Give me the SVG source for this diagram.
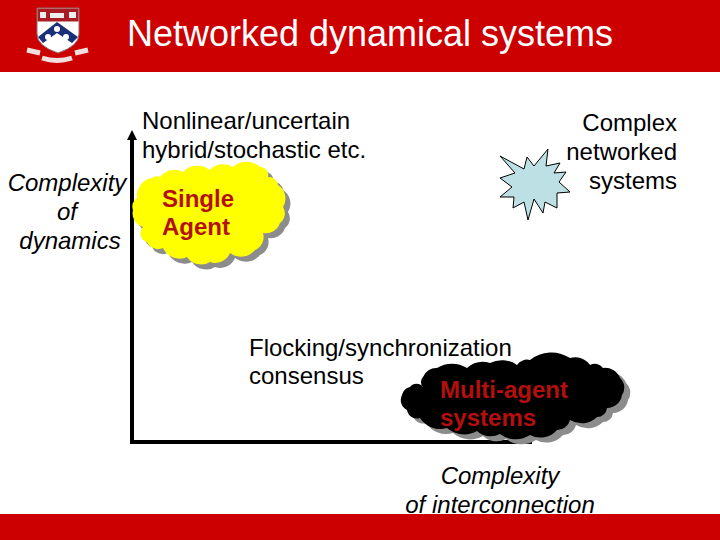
<svg xmlns="http://www.w3.org/2000/svg" width="720" height="540" viewBox="0 0 720 540">
<style>
text{font-family:"Liberation Sans",Arial,sans-serif;fill:#000}
.t{font-size:24px}
.i{font-size:24px;font-style:italic}
.m{text-anchor:middle}
.e{text-anchor:end}
.b{font-size:24px;font-weight:bold;fill:#b40f0f}
.title{font-size:36px;fill:#fff}
.ax{stroke:#000;stroke-width:4;fill:none}
</style>
<defs>
<path id="y" d="M133 210A10 10 0 0 1 137 198A18 18 0 0 1 152 178A8 8 0 0 1 160 177A18 18 0 0 1 183 172A20 20 0 0 1 210 170A18 18 0 0 1 233 167A20 20 0 0 1 260 167A8 8 0 0 1 268 177A9 9 0 0 1 278 185A16 16 0 0 1 283 207A12 12 0 0 1 280 223A15 15 0 0 1 263 233A14 14 0 0 1 255 250A18 18 0 0 1 230 253A16 16 0 0 1 210 262A17 17 0 0 1 187 257A18 18 0 0 1 163 248A12 12 0 0 1 147 242A9 9 0 0 1 143 227A14 14 0 0 1 133 210Z"/>
<path id="k" d="M402 395A11 11 0 0 1 410 387A8 8 0 0 1 423 387A7 7 0 0 1 423 377A14 14 0 0 1 437 368A28 28 0 0 1 467 368A24 24 0 0 1 490 363A26 26 0 0 1 517 365A12 12 0 0 1 530 360A34 34 0 0 1 570 358A18 18 0 0 1 590 365A10 10 0 0 1 603 368A16 16 0 0 1 620 378A13 13 0 0 1 622 395A15 15 0 0 1 607 408A10 10 0 0 1 597 417A22 22 0 0 1 570 420A13 13 0 0 1 557 430A22 22 0 0 1 530 435A26 26 0 0 1 500 434A20 20 0 0 1 477 431A26 26 0 0 1 447 428A24 24 0 0 1 420 418A10 10 0 0 1 407 410A11 11 0 0 1 402 395Z"/>
</defs>
<rect width="720" height="540" fill="#fff"/>
<rect id="header" width="720" height="72" fill="#cc0000"/>
<rect id="footer" y="514" width="720" height="26" fill="#cc0000"/>
<g id="crest">
<path d="M37 8H79V34Q79 46 58 53Q37 46 37 34Z" fill="#fff" stroke="#8a6a70" stroke-width="1"/>
<rect x="37.500" y="8.500" width="41" height="13" fill="#a81c24"/>
<rect x="40" y="12" width="6" height="6" fill="#eee"/>
<rect x="50" y="13" width="14" height="5" fill="#eee"/>
<rect x="69" y="12" width="7" height="6" fill="#eee"/>
<path d="M57 22L78 37L72 43L57 33L43 43L38 37Z" fill="#1a2f7a"/>
<circle cx="57" cy="29" r="3" fill="#fff"/>
<circle cx="48" cy="37" r="3" fill="#fff"/>
<circle cx="66" cy="37" r="3" fill="#fff"/>
<path d="M27 50L40 53M42 58Q57 63 72 58M75 53L88 50" fill="none" stroke="#f2e0e0" stroke-width="5"/>
</g>
<text class="title m" x="370" y="46" id="title">Networked dynamical systems</text>
<g id="connectors">
<path class="ax" d="M132 442V138"/>
<path d="M127 140L132 130L137 140Z" fill="#000"/>
<path class="ax" d="M130 442H532"/>
</g>
<g id="labels">
<text class="t" x="142" y="129">Nonlinear/uncertain</text>
<text class="t" x="142" y="158">hybrid/stochastic etc.</text>
<text class="i m" x="67" y="191">Complexity</text>
<text class="i m" x="67" y="220">of</text>
<text class="i m" x="70" y="249">dynamics</text>
<text class="t e" x="677" y="131">Complex</text>
<text class="t e" x="677" y="160">networked</text>
<text class="t e" x="677" y="189">systems</text>
<text class="t" x="249" y="356">Flocking/synchronization</text>
<text class="t" x="249" y="384">consensus</text>
<text class="i m" x="500" y="484">Complexity</text>
<text class="i m" x="500" y="513">of interconnection</text>
</g>
<g id="single-agent">
<use href="#y" x="5" y="5" fill="#8c8c8c"/>
<use href="#y" fill="#ffff00"/>
<text class="b" x="162" y="207">Single</text>
<text class="b" x="162" y="235">Agent</text>
</g>
<g id="complex-star">
<polygon points="500,156 524,169 527,157 534,166 548,149 546,166 560,163 554,173 566,172 559,182 570,192 557,193 557,208 545,202 543,213 534,199 528,220 524,202 513,208 514,197 500,197 512,187 500,178 515,173" fill="#bde0e5" stroke="#000" stroke-width="1"/>
</g>
<g id="multi-agent">
<use href="#k" x="6" y="5" fill="#8c8c8c"/>
<use href="#k" fill="#000"/>
<text class="b" x="440" y="398">Multi-agent</text>
<text class="b" x="440" y="426">systems</text>
</g>
</svg>
